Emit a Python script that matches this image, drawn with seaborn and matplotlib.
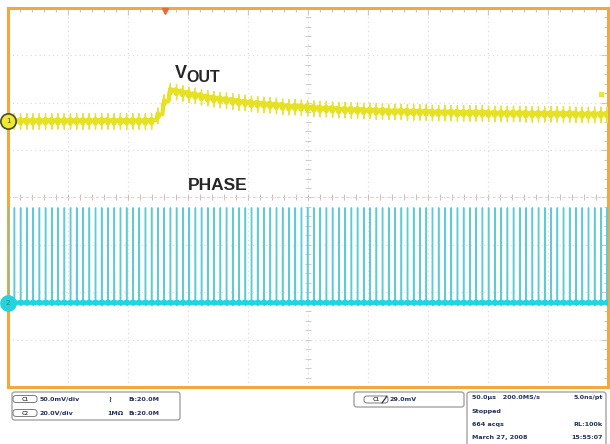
import numpy as np
import matplotlib
matplotlib.use("Agg")
import matplotlib.pyplot as plt
from matplotlib.patches import FancyBboxPatch
from matplotlib.ticker import MultipleLocator
import seaborn as sns

# ---- acquisition settings -------------------------------------------------
TIME_PER_DIV_US = 50.0
H_DIVS = 10
V_DIVS = 8
CH1_SCALE_MV = 50.0      # C1 (VOUT), mV/div
CH2_SCALE_V = 20.0       # C2 (PHASE), V/div
CH1_POS_DIV = 1.61       # C1 ground marker, divisions above centre
CH2_POS_DIV = -2.22      # C2 ground marker
TRIG_LEVEL_MV = 29.0
TRIG_TIME_US = 131.0

SWITCH_PERIOD_US = 5.2
FIRST_CYCLE_US = -0.7

# VOUT average level (mV, AC offset) in each switching cycle
VOUT_CYCLE_MV = (
    [0.0] * 24
    + [6, 20, 32, 31, 29.5, 28, 27, 25.5, 24.5, 23.5,
       22.5, 22, 21, 20, 19.5, 18.5, 18, 17.5, 17, 16.5,
       15.5, 15, 15, 14.5, 14, 13.5, 13, 13, 12.5, 12,
       12, 11.5, 11.5, 11, 11, 10.5, 10.5, 10, 10, 10,
       9.5, 9.5, 9.5, 9.5, 9, 9, 9, 9, 8.5, 8.5,
       8.5, 8.5, 8.5, 8, 8, 8, 8, 8, 8, 7.5,
       7.5, 7.5, 7.5, 7.5, 7.5, 7.5, 7.5, 7, 7, 7,
       7, 7, 7]
)
# ripple shape within one cycle: slow ramp with a switching spike
VOUT_RIPPLE_T_US = [0.0, 0.7, 0.75, 0.8, 0.9, 2.4, 4.6]
VOUT_RIPPLE_MV = [-1.5, -1.0, 8.0, -8.5, -2.0, 0.5, 1.5]

# switch-node pulse within one cycle
PHASE_T_US = [0.0, 0.62, 0.66, 1.02, 1.06, 1.2, 2.4]
PHASE_V = [0.0, 0.0, 40.0, 40.0, -1.2, 0.0, 0.0]

# status bar text
CH_ROWS = [("C1", "50.0mV/div", "", "B\u2097:20.0M"),
           ("C2", "20.0V/div", "1M\u03a9", "B\u2097:20.0M")]
COUPLING_MARK = "\u2240"
TRIG_TEXT = "29.0mV"
ACQ_ROWS = [("50.0\u00b5s   200.0MS/s", "5.0ns/pt"),
            ("Stopped", ""),
            ("664 acqs", "RL:100k"),
            ("March 27, 2008", "15:55:07")]

# ---- build traces ---------------------------------------------------------
n_cyc = len(VOUT_CYCLE_MV)
starts = FIRST_CYCLE_US + SWITCH_PERIOD_US * np.arange(n_cyc)

t_vout = (starts[:, None] + np.asarray(VOUT_RIPPLE_T_US)[None, :]).ravel()
v_vout = (np.asarray(VOUT_CYCLE_MV)[:, None]
          + np.asarray(VOUT_RIPPLE_MV)[None, :]).ravel()
y_vout = CH1_POS_DIV + v_vout / CH1_SCALE_MV
y_vout_band = CH1_POS_DIV + (np.asarray(VOUT_CYCLE_MV)[:, None]
                             + np.clip(VOUT_RIPPLE_MV, -2.5, 2.5)[None, :]
                             ).ravel() / CH1_SCALE_MV

t_phase = (starts[:, None] + np.asarray(PHASE_T_US)[None, :]).ravel()
v_phase = np.tile(np.asarray(PHASE_V), n_cyc)
y_phase = CH2_POS_DIV + v_phase / CH2_SCALE_V
y_phase_base = CH2_POS_DIV + np.clip(v_phase, -0.3, 0.3) / CH2_SCALE_V

# ---- figure ---------------------------------------------------------------
sns.set_style("white")
W, H = 610, 444
fig = plt.figure(figsize=(W / 100, H / 100), dpi=100)
fig.patch.set_facecolor("white")

L, T, R, B = 8, 8, 608, 387
ax = fig.add_axes([L / W, 1 - B / H, (R - L) / W, (B - T) / H])
ax.set_xlim(0, TIME_PER_DIV_US * H_DIVS)
ax.set_ylim(-V_DIVS / 2, V_DIVS / 2)

# graticule
ax.xaxis.set_major_locator(MultipleLocator(TIME_PER_DIV_US))
ax.xaxis.set_minor_locator(MultipleLocator(TIME_PER_DIV_US / 5))
ax.yaxis.set_major_locator(MultipleLocator(1))
ax.yaxis.set_minor_locator(MultipleLocator(0.2))
ax.grid(True, which="major", ls=(0, (1, 3)), color="#dadada", lw=0.8)
ax.tick_params(which="both", direction="in", color="#c8c8c8",
               top=True, right=True, labelleft=False, labelbottom=False,
               width=0.8)
ax.tick_params(which="major", length=5)
ax.tick_params(which="minor", length=3)
for s in ax.spines.values():
    s.set_color("#f2a93b")
    s.set_linewidth(2.2)

xc = TIME_PER_DIV_US * H_DIVS / 2
ax.plot(np.arange(0, 2 * xc + 0.1, TIME_PER_DIV_US / 5), np.zeros(51),
        ls="none", marker="|", ms=4, mew=0.7, color="#dcb8b8")
ax.axhline(0, color="#ead0d0", lw=0.7, ls=(0, (3, 3)))
ax.plot(np.full(41, xc), np.arange(-4, 4.01, 0.2),
        ls="none", marker="_", ms=4, mew=0.7, color="#cccccc")

# PHASE trace: thin pulses plus heavier baseline
sns.lineplot(x=t_phase, y=y_phase, ax=ax, color="#5ccbd4", lw=1.0,
             estimator=None, sort=False, zorder=3)
sns.lineplot(x=t_phase, y=y_phase_base, ax=ax, color="#22d4dd", lw=3.2,
             estimator=None, sort=False, zorder=4)

# VOUT trace: spikes plus the ripple band
sns.lineplot(x=t_vout, y=y_vout, ax=ax, color="#e8e43c", lw=1.0,
             estimator=None, sort=False, zorder=5)
sns.lineplot(x=t_vout, y=y_vout_band, ax=ax, color="#e6e223", lw=3.0,
             estimator=None, sort=False, zorder=6)

# channel ground markers
ax.plot(0, CH1_POS_DIV, "o", ms=11, mfc="#eeea2c", mec="#4a4a30", mew=1.2,
        clip_on=False, zorder=10)
ax.text(0, CH1_POS_DIV, "1", fontsize=5, ha="center", va="center",
        color="#4a4a30", zorder=11, clip_on=False)
ax.plot(0, CH2_POS_DIV, "o", ms=11, mfc="#26d2dc", mec="#26d2dc",
        clip_on=False, zorder=10)
ax.text(0, CH2_POS_DIV, "2", fontsize=5, ha="center", va="center",
        color="#1a8a90", zorder=11, clip_on=False)

# trigger position and level markers
ax.plot(TRIG_TIME_US, 3.93, marker="v", ms=5, color="#ec6a36",
        clip_on=False, zorder=10)
ax.plot(2 * xc - 6, CH1_POS_DIV + TRIG_LEVEL_MV / CH1_SCALE_MV, marker="s",
        ms=3, color="#e8e440", zorder=10)

# trace labels
fig.text(175 / W, 1 - 74 / H, "V", fontsize=13, fontweight="bold",
         family="Liberation Sans", ha="left", va="center")
fig.text(186 / W, 1 - 78 / H, "OUT", fontsize=11.5, fontweight="bold",
         family="Liberation Sans", ha="left", va="center")
fig.text(188 / W, 1 - 185 / H, "PHASE", fontsize=12.5, fontweight="bold",
         family="Liberation Sans", ha="left", va="center")

# ---- status bar -----------------------------------------------------------
TXT = dict(fontsize=4.6, fontweight="bold", color="#22305a",
           family="DejaVu Sans", va="center")


def box(x0, y0, x1, y1, r=3, ec="#9a9a9a", lw=0.9):
    fig.patches.append(FancyBboxPatch(
        (x0 / W, 1 - y1 / H), (x1 - x0) / W, (y1 - y0) / H,
        boxstyle=f"round,pad=0,rounding_size={r / W}",
        transform=fig.transFigure, fc="none", ec=ec, lw=lw))


def pill(x0, yc, label):
    box(x0, yc - 3.5, x0 + 24, yc + 3.5, r=3.5, ec="#7a7a7a", lw=0.7)
    fig.text((x0 + 12) / W, 1 - yc / H, label, ha="center",
             **{**TXT, "fontsize": 3.6, "color": "#555"})


box(12, 392, 180, 420)
for (ch, scale, cpl, bw), yc in zip(CH_ROWS, (399, 413)):
    pill(13, yc, ch)
    fig.text(40 / W, 1 - yc / H, scale, ha="left", **TXT)
    if cpl:
        fig.text(124 / W, 1 - yc / H, cpl, ha="right", **TXT)
    fig.text(128 / W, 1 - yc / H, bw, ha="left", **TXT)
fig.text(110 / W, 1 - 399 / H, COUPLING_MARK, ha="center",
         **{**TXT, "fontsize": 6})

box(354, 392, 464, 407)
pill(364, 399.5, "C1")
fig.text(390 / W, 1 - 399.5 / H, TRIG_TEXT, ha="left", **TXT)
fig.lines.append(plt.Line2D([382 / W, 387 / W], [1 - 403 / H, 1 - 396 / H],
                            transform=fig.transFigure, color="#22305a",
                            lw=0.9))

box(467, 392, 606, 450)
for (left, right), yc in zip(ACQ_ROWS, (398, 411, 424, 437)):
    fig.text(472 / W, 1 - yc / H, left, ha="left", **TXT)
    if right:
        fig.text(603 / W, 1 - yc / H, right, ha="right", **TXT)

fig.savefig("out.png", dpi=100, facecolor="white")
